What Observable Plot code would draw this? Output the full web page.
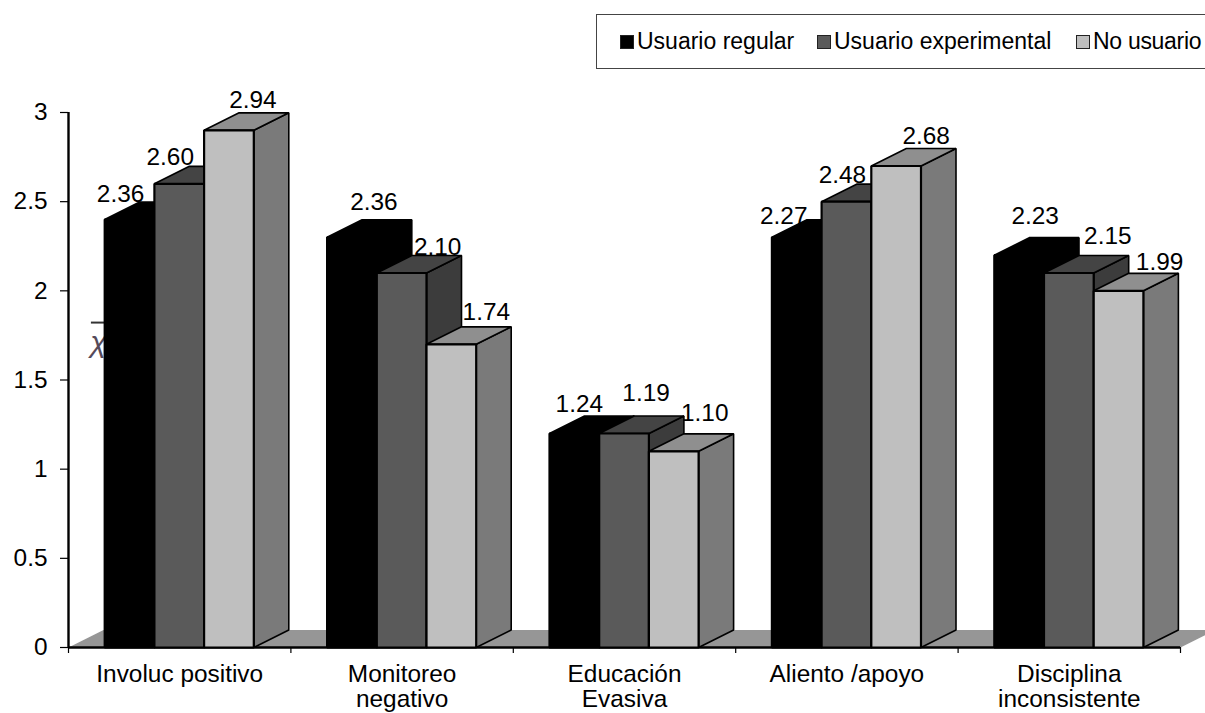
<!DOCTYPE html>
<html lang="es">
<head>
<meta charset="utf-8">
<script src="https://cdn.jsdelivr.net/npm/d3@7"></script>
<script src="https://cdn.jsdelivr.net/npm/@observablehq/plot@0.6"></script>
<style>
  html, body { margin: 0; padding: 0; background: #fff; overflow: hidden; width: 1205px; height: 713px; }
  #top { position: relative; height: 70px; overflow: hidden; font-family: "Liberation Sans", Arial, sans-serif; font-size: 23px; color: #000; }
  #box { position: absolute; left: 596px; top: 14px; width: 640px; height: 53px; border: 1px solid #444; }
  .sw { position: absolute; top: 35px; width: 12px; height: 12px; border: 1px solid #222; }
  .lb { position: absolute; top: 27px; line-height: 28px; white-space: nowrap; }
  svg { display: block; }
</style>
</head>
<body>
<div id="top"><div id="box"></div></div>
<div id="chart"></div>
<script>
const categories = ["Involuc positivo", "Monitoreo\nnegativo", "Educación\nEvasiva", "Aliento /apoyo", "Disciplina\ninconsistente"];
const seriesNames = ["Usuario regular", "Usuario experimental", "No usuario"];
// heights of the drawn columns
const usuarioRegular = [2.4, 2.3, 1.2, 2.3, 2.2];
const usuarioExperimental = [2.6, 2.1, 1.2, 2.5, 2.1];
const noUsuario = [2.9, 1.7, 1.1, 2.7, 2.0];
// printed labels
const labelsRegular = ["2.36", "2.36", "1.24", "2.27", "2.23"];
const labelsExperimental = ["2.60", "2.10", "1.19", "2.48", "2.15"];
const labelsNoUsuario = ["2.94", "1.74", "1.10", "2.68", "1.99"];
const yTicks = [0, 0.5, 1, 1.5, 2, 2.5, 3];

// styling / geometry (not data)
const W = 1205, H = 643, ML = 68, MR = 25, MT = 42, MB = 66;
const pxX = (W - ML - MR) / categories.length, pxY = (H - MT - MB) / 3;
const depthX = 35 / pxX, depthY = 17.5 / pxY, barW = 49.7 / pxX, barStart = 36.2 / pxX;
const fontFamily = '"Liberation Sans", Arial, sans-serif';
const faces = [
  {front: "#000000", side: "#000000", top: "#000000"},
  {front: "#5a5a5a", side: "#3c3c3c", top: "#444444"},
  {front: "#bfbfbf", side: "#7a7a7a", top: "#8f8f8f"}
];
// hand-moved label offsets in the source slide (px from the column's top centre)
const labelNudges = [
  [[-9, -25], [22, -35], [5, -29], [-13, -21], [16, -39]],
  [[-9, -27], [36, -26], [22, -40], [-4, -26], [39, -37]],
  [[24, -30], [35, -32], [31, -38], [30, -30], [41, -29]]
];

const values = [usuarioRegular, usuarioExperimental, noUsuario];
const printed = [labelsRegular, labelsExperimental, labelsNoUsuario];

const polys = [], labels = [];
categories.forEach((c, g) => {
  values.forEach((vals, s) => {
    const v = vals[g], x0 = g + barStart + s * barW, x1 = x0 + barW;
    const f = faces[s];
    const add = (id, color, sw, pts) => pts.forEach(([x, y]) => polys.push({id: `${g}-${s}-${id}`, color, sw, x, y}));
    add("side", f.side, 1.6, [[x1, 0], [x1 + depthX, depthY], [x1 + depthX, v + depthY], [x1, v]]);
    add("top", f.top, 1.6, [[x0, v], [x0 + depthX, v + depthY], [x1 + depthX, v + depthY], [x1, v]]);
    add("front", f.front, 2.2, [[x0, 0], [x0, v], [x1, v], [x1, 0]]);
    const [nx, ny] = labelNudges[s][g];
    labels.push({text: printed[s][g], x: (x0 + x1) / 2 + nx / pxX, y: v - ny / pxY});
  });
});
const floor = [[0, 0], [depthX, depthY], [5 + depthX, depthY], [5, 0]].map(([x, y]) => ({x, y}));

const plot = Plot.plot({
  width: W, height: H,
  marginLeft: ML, marginRight: MR, marginTop: MT, marginBottom: MB,
  style: {fontFamily, background: "#fff", color: "#000"},
  x: {domain: [0, categories.length], axis: null},
  y: {domain: [0, 3], axis: null},
  color: {type: "identity"},
  marks: [
    Plot.line(floor, {x: "x", y: "y", fill: "#969696", stroke: "none", curve: "linear-closed"}),
    Plot.text([{x: 0.135, y: 1.71}], {x: "x", y: "y", text: () => "χ", fontSize: 30, fontStyle: "italic", fill: "#554a5a"}),
    Plot.ruleY([1.822], {x1: 0.103, x2: 0.17, stroke: "#333", strokeWidth: 2}),
    Plot.axisY({ticks: yTicks, tickSize: 8, tickPadding: 13, tickFormat: d => String(d), fontSize: 24.4, label: null, stroke: "#000", strokeOpacity: 1, strokeWidth: 1.2}),
    Plot.axisX({ticks: d3.range(0, categories.length + 1), tickSize: 6, tickPadding: 0, tickFormat: () => "", label: null, strokeOpacity: 1, strokeWidth: 1.2}),
    Plot.axisX({ticks: categories.map((c, i) => i + 0.5), tickSize: 0, tickPadding: 16, tickFormat: d => categories[d - 0.5], fontSize: 24.4, lineHeight: 1.05, label: null}),
    Plot.ruleX([0], {y1: 0, y2: 3, stroke: "#000", strokeWidth: 2.4}),
    Plot.ruleY([0], {x1: 0, x2: categories.length, stroke: "#000", strokeWidth: 2.4}),
    Plot.text(labels, {x: "x", y: "y", text: "text", fontSize: 24.4, fill: "#000"}),
    Plot.line(polys, {x: "x", y: "y", z: "id", fill: "color", stroke: "#000", strokeWidth: "sw", strokeLinejoin: "miter", curve: "linear-closed"})
  ]
});
document.getElementById("chart").append(plot);

// legend
const top_ = document.getElementById("top");
const swX = [620, 817, 1076], lbX = [637, 834, 1093];
seriesNames.forEach((n, i) => {
  const s = document.createElement("div");
  s.className = "sw"; s.style.left = swX[i] + "px"; s.style.background = faces[i].front;
  const l = document.createElement("div");
  l.className = "lb"; l.style.left = lbX[i] + "px"; l.textContent = n;
  if (i === 2) l.style.letterSpacing = "-0.3px";
  top_.append(s, l);
});
</script>
</body>
</html>
